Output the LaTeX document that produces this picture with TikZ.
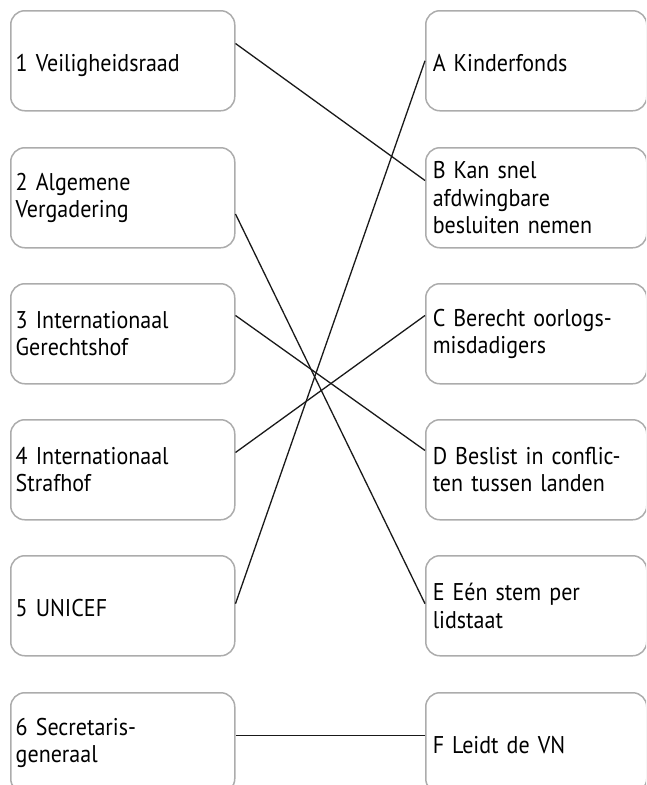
\documentclass[tikz,border=0pt]{standalone}
\usepackage{fontspec}
\setmainfont{PT Sans}[FakeStretch=0.91, WordSpace=0.75]
\usetikzlibrary{calc}

\begin{document}
\begin{tikzpicture}[
    x=1pt, y=-1pt,
    box/.style={draw=gray!65, line width=1.5pt, rounded corners=14pt,
        minimum height=100pt, anchor=north west, align=left,
        font=\fontsize{24.2}{27.5}\selectfont},
    oneline/.style={text height=22pt, text depth=0pt},
    leftbox/.style={box, text width=214pt, inner xsep=5pt},
    rightbox/.style={box, text width=207pt, inner xsep=7pt},
    link/.style={draw=black!90, line width=1.3pt}
]
% Dimensions
\def\L{10} \def\R{425} % Column edges
\useasboundingbox (0,0) rectangle (646,785);
\clip (0,0) rectangle (646,785);

% Left column
\node[leftbox,oneline] (l1) at (\L,10)  {1 Veiligheidsraad};
\node[leftbox] (l2) at (\L,147) {2 Algemene\\Vergadering};
\node[leftbox] (l3) at (\L,283) {3 Internationaal\\Gerechtshof};
\node[leftbox] (l4) at (\L,419) {4 Internationaal\\Strafhof};
\node[leftbox,oneline] (l5) at (\L,555) {5 UNICEF};
\node[leftbox] (l6) at (\L,692) {6 Secretaris-\\generaal};

% Right column
\node[rightbox,oneline] (rA) at (\R,10)  {A Kinderfonds};
\node[rightbox] (rB) at (\R,147) {B Kan snel\\afdwingbare\\besluiten nemen};
\node[rightbox] (rC) at (\R,283) {C Berecht oorlogs-\\misdadigers};
\node[rightbox] (rD) at (\R,419) {D Beslist in conflic-\\ten tussen landen};
\node[rightbox] (rE) at (\R,555) {E Eén stem per\\lidstaat};
\node[rightbox,oneline] (rF) at (\R,692) {F Leidt de VN};

% Matching lines
\draw[link] ($(l1.north east)!0.33!(l1.south east)$) -- ($(rB.north west)!0.33!(rB.south west)$);
\draw[link] ($(l2.north east)!0.66!(l2.south east)$) -- ($(rE.north west)!0.48!(rE.south west)$);
\draw[link] ($(l3.north east)!0.32!(l3.south east)$) -- ($(rD.north west)!0.31!(rD.south west)$);
\draw[link] ($(l4.north east)!0.33!(l4.south east)$) -- ($(rC.north west)!0.32!(rC.south west)$);
\draw[link] ($(l5.north east)!0.48!(l5.south east)$) -- ($(rA.north west)!0.50!(rA.south west)$);
\draw[link] ($(l6.north east)!0.43!(l6.south east)$) -- ($(rF.north west)!0.43!(rF.south west)$);

\end{tikzpicture}
\end{document}
